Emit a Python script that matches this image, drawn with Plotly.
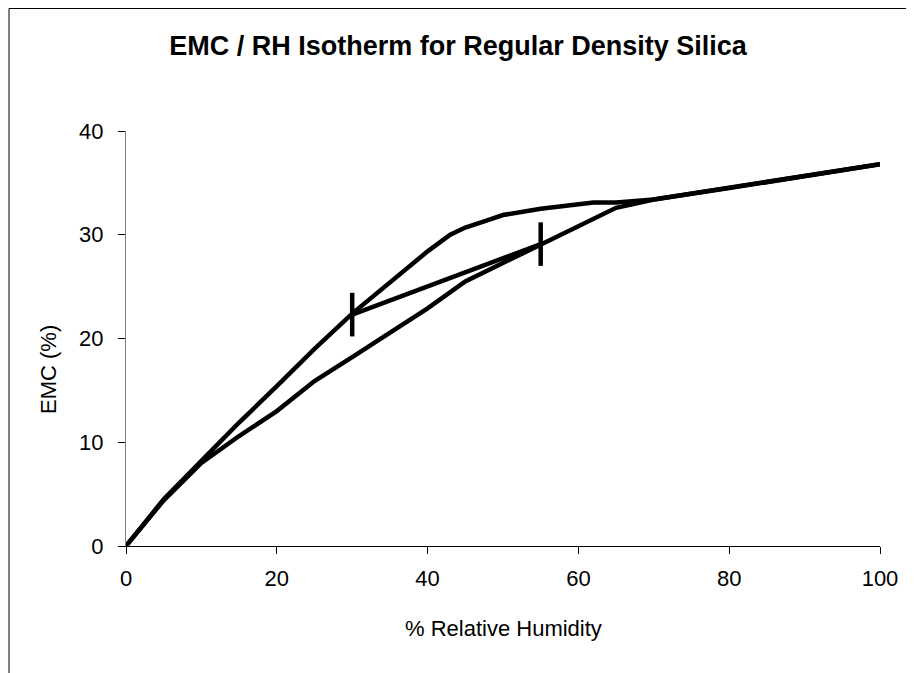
import plotly.graph_objects as go

# Adsorcion (rama inferior)
rh_ads = [0, 5, 10, 15, 20, 25, 30, 35, 40, 45, 50, 55, 60, 65, 70, 80, 90, 100]
emc_ads = [0, 4.4, 8.0, 10.6, 13.0, 15.9, 18.2, 20.5, 22.9, 25.5, 27.3, 29.1, 30.8, 32.6, 33.4, 34.5, 35.6, 36.8]

# Desorcion (rama superior)
rh_des = [0, 5, 10, 15, 20, 25, 30, 35, 38, 40, 43, 45, 48, 50, 55, 60, 62, 65, 70, 80, 90, 100]
emc_des = [0, 4.5, 8.2, 11.9, 15.4, 19.0, 22.4, 25.4, 27.2, 28.4, 30.0, 30.7, 31.4, 31.9, 32.5, 32.9, 33.1, 33.1, 33.4, 34.5, 35.6, 36.8]

# Linea de barrido con marcas verticales
rh_scan = [30, 55]
emc_scan = [22.3, 29.1]
err_scan = [2.1, 2.1]

linea = dict(color="black", width=4.5)

fig = go.Figure()
fig.add_trace(go.Scatter(x=rh_ads, y=emc_ads, mode="lines", line=linea))
fig.add_trace(go.Scatter(x=rh_des, y=emc_des, mode="lines", line=linea))
fig.add_trace(go.Scatter(x=rh_scan, y=emc_scan, mode="lines", line=linea,
                         error_y=dict(type="data", array=err_scan, visible=True,
                                      color="black", thickness=4.5, width=0)))

# la pagina tiene 8px de margen en el body, la figura se achica para que entre
W, H = 906, 665
L, T, PW, PH = 118, 123, 754, 415
R, B = W - L - PW, H - T - PH

fig.update_layout(
    width=W, height=H,
    margin=dict(l=L, r=R, t=T, b=B),
    showlegend=False,
    paper_bgcolor="white",
    plot_bgcolor="white",
    font=dict(family="Liberation Sans, Arial", color="black"),
    title=dict(text="<b>EMC / RH Isotherm for Regular Density Silica</b>",
               x=450 / W, xref="container", xanchor="center",
               y=1 - 38 / H, yref="container", yanchor="middle",
               font=dict(size=27)),
    xaxis=dict(
        range=[0, 100], dtick=20, showgrid=False, zeroline=False,
        showline=True, linecolor="black", linewidth=1,
        ticks="outside", ticklen=7, tickcolor="black",
        tickfont=dict(size=22), ticklabelstandoff=6,
    ),
    yaxis=dict(
        range=[0, 40], dtick=10, showgrid=False, zeroline=False,
        showline=True, linecolor="#808080", linewidth=1,
        ticks="outside", ticklen=7, tickcolor="black",
        tickfont=dict(size=22), ticklabelstandoff=10,
    ),
    annotations=[
        dict(text="% Relative Humidity", xref="paper", yref="paper",
             x=0.5, y=-(620 - T - PH) / PH, xanchor="center", yanchor="middle",
             showarrow=False, font=dict(size=22)),
        dict(text="EMC (%)", xref="paper", yref="paper", textangle=-90,
             x=-(L - 40) / PW, y=(T + PH - 362) / PH, xanchor="center", yanchor="middle",
             showarrow=False, font=dict(size=22)),
    ],
    shapes=[dict(type="rect", xref="paper", yref="paper",
                 x0=(1 - L) / PW, x1=(904.5 - L) / PW,
                 y0=-(H + 10 - T - PH) / PH, y1=(T + PH - 0.5) / PH,
                 line=dict(color="black", width=1), layer="below")],
)

fig.write_html("out.html")
